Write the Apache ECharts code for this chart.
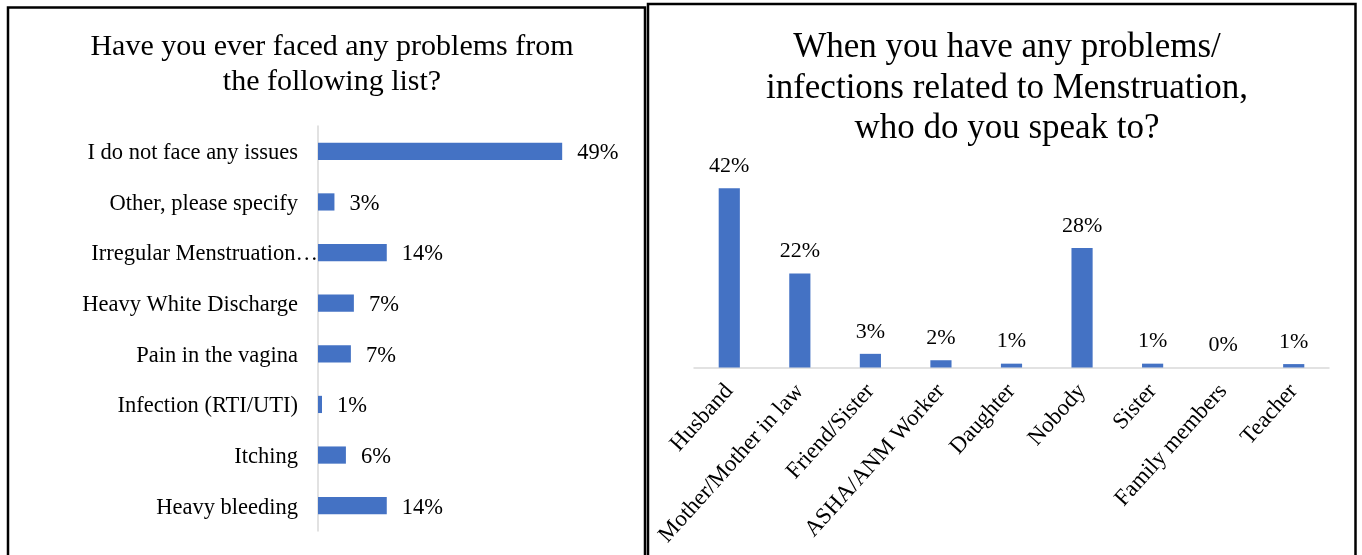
<!DOCTYPE html>
<html>
<head>
<meta charset="utf-8">
<script src="https://cdn.jsdelivr.net/npm/echarts@6/dist/echarts.min.js"></script>
<style>
html,body{margin:0;padding:0;background:#fff;}
#chart{width:1362px;height:555px;}
</style>
</head>
<body>
<div id="chart"></div>
<script>
// Left chart data
const problemCategories = ['I do not face any issues', 'Other, please specify', 'Irregular Menstruation…', 'Heavy White Discharge', 'Pain in the vagina', 'Infection (RTI/UTI)', 'Itching', 'Heavy bleeding'];
const problemValues = [49, 3.3, 13.8, 7.2, 6.6, 0.8, 5.6, 13.8];

// Right chart data
const speakCategories = ['Husband', 'Mother/Mother in law', 'Friend/Sister', 'ASHA/ANM Worker', 'Daughter', 'Nobody', 'Sister', 'Family members', 'Teacher'];
const speakValues = [42, 22, 3.2, 1.7, 0.9, 28, 0.9, 0, 0.8];

const leftTitle = 'Have you ever faced any problems from\nthe following list?';
const rightTitle = 'When you have any problems/\ninfections related to Menstruation,\nwho do you speak to?';

const FONT = "'Liberation Serif', 'Times New Roman', serif";
const BAR = '#4472C4';
const pct = p => Math.round(p.value) + '%';

const chart = echarts.init(document.getElementById('chart'), null, {renderer: 'canvas'});
chart.setOption({
  animation: false,
  textStyle: {fontFamily: FONT, color: '#000'},
  title: [
    {text: leftTitle, left: 327, top: 25, textAlign: 'center',
     textStyle: {fontFamily: FONT, fontSize: 30, fontWeight: 'normal', color: '#000', lineHeight: 35, align: 'center'}},
    {text: rightTitle, left: 1002, top: 23, textAlign: 'center',
     textStyle: {fontFamily: FONT, fontSize: 35, fontWeight: 'normal', color: '#000', lineHeight: 40.5, align: 'center'}}
  ],
  graphic: [
    {type: 'rect', shape: {x: 8, y: 7.5, width: 637, height: 570}, style: {fill: 'none', stroke: '#000', lineWidth: 2.5}, z: 100},
    {type: 'rect', shape: {x: 648, y: 4, width: 707.5, height: 570}, style: {fill: 'none', stroke: '#000', lineWidth: 2.5}, z: 100}
  ],
  grid: [
    {left: 318, top: 126, width: 299, height: 405},
    {left: 694, top: 154, width: 635, height: 213.5}
  ],
  xAxis: [
    {type: 'value', gridIndex: 0, min: 0, max: 60, show: false},
    {type: 'category', gridIndex: 1, data: speakCategories,
     axisLine: {lineStyle: {color: '#d9d9d9', width: 1.5}}, axisTick: {show: false},
     axisLabel: {rotate: 48, interval: 0, margin: 20, fontFamily: FONT, fontSize: 23, color: '#000'}}
  ],
  yAxis: [
    {type: 'category', gridIndex: 0, data: problemCategories, inverse: true,
     axisLine: {lineStyle: {color: '#d9d9d9', width: 1.5}}, axisTick: {show: false},
     axisLabel: {margin: 0, fontFamily: FONT, fontSize: 22.5, color: '#000',
       formatter: v => v.endsWith('…') ? '{t|' + v + '}' : '{n|' + v + '}',
       rich: {n: {fontFamily: FONT, fontSize: 22.5, color: '#000', padding: [4, 20, 0, 0]},
              t: {fontFamily: FONT, fontSize: 22.5, color: '#000', padding: [4, 0, 0, 0]}}}},
    {type: 'value', gridIndex: 1, min: 0, max: 50, show: false}
  ],
  series: [
    {type: 'bar', xAxisIndex: 0, yAxisIndex: 0, data: problemValues, barWidth: '34%',
     itemStyle: {color: BAR},
     label: {show: true, position: 'right', distance: 15, offset: [0, 2], formatter: pct, fontFamily: FONT, fontSize: 22.5, color: '#000'}},
    {type: 'bar', xAxisIndex: 1, yAxisIndex: 1, data: speakValues, barWidth: '30%',
     itemStyle: {color: BAR},
     label: {show: true, position: 'top', distance: 11, formatter: pct, fontFamily: FONT, fontSize: 22, color: '#000'}}
  ]
});
</script>
</body>
</html>
